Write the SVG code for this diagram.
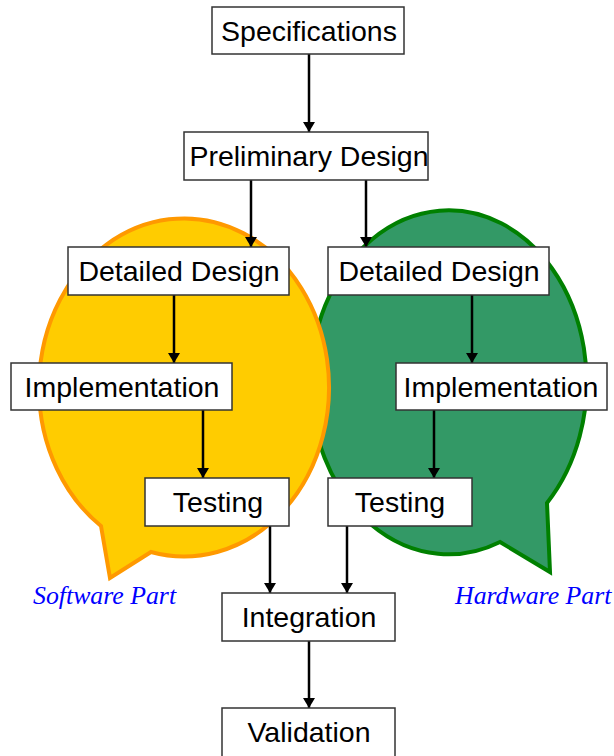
<svg xmlns="http://www.w3.org/2000/svg" width="614" height="756" viewBox="0 0 614 756">
<defs>
<marker id="ah" viewBox="0 0 10 12" refX="10" refY="6" markerWidth="10" markerHeight="12" markerUnits="userSpaceOnUse" orient="auto">
<path d="M0,0 L10,6 L0,12 Z" fill="#000"/>
</marker>
</defs>
<style>
.box{fill:#fff;stroke:#333;stroke-width:1.5}
.lbl{font-family:"Liberation Sans",Arial,sans-serif;font-size:28.5px;fill:#000;text-anchor:middle}
.part{font-family:"Liberation Serif","Times New Roman",serif;font-style:italic;font-size:25.8px;fill:#0000FF}
.conn{stroke:#000;stroke-width:2.5;fill:none;marker-end:url(#ah)}
</style>
<g id="hardware-bubble">
<path d="M500,542 L550,572 L547,503 A138,172 0 1 0 500,542 Z" fill="#339966" stroke="#008000" stroke-width="4" stroke-linejoin="miter"/>
</g>
<g id="software-bubble">
<path d="M101,526 L110,578 L151,552 A145,169 0 1 0 101,526 Z" fill="#FFCC00" stroke="#FF9900" stroke-width="4" stroke-linejoin="miter"/>
</g>
<g id="connectors">
<line class="conn" x1="309" y1="54" x2="309" y2="132"/>
<line class="conn" x1="251" y1="180" x2="251" y2="247"/>
<line class="conn" x1="366" y1="180" x2="366" y2="247"/>
<line class="conn" x1="174" y1="295" x2="174" y2="363"/>
<line class="conn" x1="203" y1="410" x2="203" y2="478"/>
<line class="conn" x1="472" y1="295" x2="472" y2="363"/>
<line class="conn" x1="434" y1="410" x2="434" y2="478"/>
<line class="conn" x1="270" y1="526" x2="270" y2="593"/>
<line class="conn" x1="347" y1="526" x2="347" y2="593"/>
<line class="conn" x1="309" y1="641" x2="309" y2="708"/>
</g>
<g id="specifications">
<rect class="box" x="212" y="7" width="192" height="47"/>
<text class="lbl" x="309" y="41">Specifications</text>
</g>
<g id="preliminary-design">
<rect class="box" x="184" y="132" width="244" height="48"/>
<text class="lbl" x="309" y="166">Preliminary Design</text>
</g>
<g id="sw-detailed-design">
<rect class="box" x="68" y="247" width="221" height="48"/>
<text class="lbl" x="179" y="281">Detailed Design</text>
</g>
<g id="sw-implementation">
<rect class="box" x="11" y="363" width="221" height="47"/>
<text class="lbl" x="122" y="397">Implementation</text>
</g>
<g id="sw-testing">
<rect class="box" x="145" y="478" width="144" height="48"/>
<text class="lbl" x="218" y="512">Testing</text>
</g>
<g id="hw-detailed-design">
<rect class="box" x="328" y="247" width="221" height="48"/>
<text class="lbl" x="439" y="281">Detailed Design</text>
</g>
<g id="hw-implementation">
<rect class="box" x="396" y="363" width="211" height="47"/>
<text class="lbl" x="501" y="397">Implementation</text>
</g>
<g id="hw-testing">
<rect class="box" x="328" y="478" width="144" height="48"/>
<text class="lbl" x="400" y="512">Testing</text>
</g>
<g id="integration">
<rect class="box" x="222" y="593" width="173" height="48"/>
<text class="lbl" x="309" y="627">Integration</text>
</g>
<g id="validation">
<rect class="box" x="222" y="708" width="173" height="52"/>
<text class="lbl" x="309" y="742">Validation</text>
</g>
<g id="software-label">
<text class="part" x="33" y="604">Software Part</text>
</g>
<g id="hardware-label">
<text class="part" x="455" y="604">Hardware Part</text>
</g>
</svg>
